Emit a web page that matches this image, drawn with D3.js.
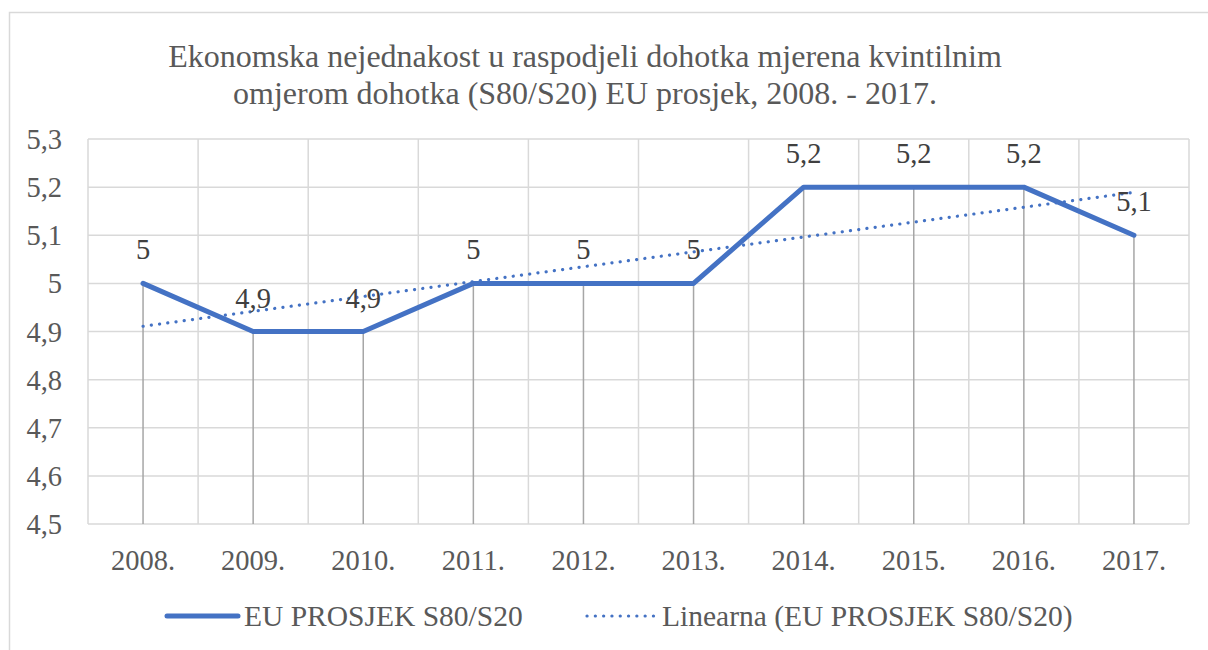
<!DOCTYPE html>
<html>
<head>
<meta charset="utf-8">
<script src="https://cdn.jsdelivr.net/npm/d3@7"></script>
<style>
  body { margin: 0; background: #fff; }
  svg text { font-family: "Liberation Serif", "Times New Roman", Times, serif; }
</style>
</head>
<body>
<script>
// data
var years = ["2008.", "2009.", "2010.", "2011.", "2012.", "2013.", "2014.", "2015.", "2016.", "2017."];
var values = [5, 4.9, 4.9, 5, 5, 5, 5.2, 5.2, 5.2, 5.1];
var yTicks = [4.5, 4.6, 4.7, 4.8, 4.9, 5, 5.1, 5.2, 5.3];
var titleLines = ["Ekonomska nejednakost u raspodjeli dohotka mjerena kvintilnim",
                  "omjerom dohotka (S80/S20) EU prosjek, 2008. - 2017."];
var seriesName = "EU PROSJEK S80/S20";
var trendName = "Linearna (EU PROSJEK S80/S20)";

var width = 1208;
var height = 650;
var blue = "#4472C4";

var plotLeft = 88, plotRight = 1189, plotTop = 139, plotBottom = 524;

var fmt = function(v){
  return String(v).replace(".", ",");
};

var svg = d3.select("body")
            .append("svg")
            .attr("width", width)
            .attr("height", height);

// outer chart border
svg.append("rect")
   .attr("x", 9.5).attr("y", 12.5)
   .attr("width", 1250).attr("height", 700)
   .attr("fill", "none")
   .attr("stroke", "#D9D9D9")
   .attr("stroke-width", 1.5);

var xScale = d3.scaleBand()
               .domain(years)
               .range([plotLeft, plotRight]);

var yScale = d3.scaleLinear()
               .domain([4.5, 5.3])
               .range([plotBottom, plotTop]);

var cx = function(i){ return xScale(years[i]) + xScale.bandwidth() / 2; };

// title
svg.selectAll(".title")
   .data(titleLines)
   .enter()
   .append("text")
   .attr("class", "title")
   .attr("x", 585)
   .attr("y", function(d, i){ return 67 + i * 36.5; })
   .attr("text-anchor", "middle")
   .attr("font-size", 32)
   .attr("fill", "#595959")
   .text(function(d){ return d; });

// horizontal gridlines
svg.selectAll(".hgrid")
   .data(yTicks)
   .enter()
   .append("line")
   .attr("x1", plotLeft).attr("x2", plotRight)
   .attr("y1", function(d){ return yScale(d); })
   .attr("y2", function(d){ return yScale(d); })
   .attr("stroke", "#D9D9D9")
   .attr("stroke-width", 1.5);

// vertical gridlines (band edges)
var edges = years.map(function(d){ return xScale(d); }).concat([plotRight]);
svg.selectAll(".vgrid")
   .data(edges)
   .enter()
   .append("line")
   .attr("x1", function(d){ return d; })
   .attr("x2", function(d){ return d; })
   .attr("y1", plotTop).attr("y2", plotBottom)
   .attr("stroke", "#D9D9D9")
   .attr("stroke-width", 1.5);

// drop lines
svg.selectAll(".drop")
   .data(values)
   .enter()
   .append("line")
   .attr("x1", function(d, i){ return cx(i); })
   .attr("x2", function(d, i){ return cx(i); })
   .attr("y1", function(d){ return yScale(d); })
   .attr("y2", plotBottom)
   .attr("stroke", "#A6A6A6")
   .attr("stroke-width", 1.5);

// y axis labels
svg.selectAll(".ylab")
   .data(yTicks)
   .enter()
   .append("text")
   .attr("x", 62)
   .attr("y", function(d){ return yScale(d) + 10; })
   .attr("text-anchor", "end")
   .attr("font-size", 28.5)
   .attr("fill", "#595959")
   .text(function(d){ return fmt(d); });

// x axis labels
svg.selectAll(".xlab")
   .data(years)
   .enter()
   .append("text")
   .attr("x", function(d, i){ return cx(i); })
   .attr("y", 570)
   .attr("text-anchor", "middle")
   .attr("font-size", 28.5)
   .attr("fill", "#595959")
   .text(function(d){ return d; });

// linear trend (least squares, like Excel's trendline)
var n = values.length;
var mx = d3.mean(values, function(d, i){ return i; });
var my = d3.mean(values);
var sxy = d3.sum(values, function(d, i){ return (i - mx) * (d - my); });
var sxx = d3.sum(values, function(d, i){ return (i - mx) * (i - mx); });
var slope = sxy / sxx;
var icpt = my - slope * mx;

var line = d3.line()
             .x(function(d, i){ return cx(i); })
             .y(function(d){ return yScale(d); });

svg.append("path")
   .datum(values)
   .attr("d", line)
   .attr("fill", "none")
   .attr("stroke", blue)
   .attr("stroke-width", 5)
   .attr("stroke-linejoin", "round")
   .attr("stroke-linecap", "round");

svg.append("line")
   .attr("x1", cx(0)).attr("y1", yScale(icpt))
   .attr("x2", cx(n - 1)).attr("y2", yScale(icpt + slope * (n - 1)))
   .attr("stroke", blue)
   .attr("stroke-width", 3.2)
   .attr("stroke-linecap", "round")
   .attr("stroke-dasharray", "0.1 8.2");

// data labels
svg.selectAll(".dlab")
   .data(values)
   .enter()
   .append("text")
   .attr("x", function(d, i){ return cx(i); })
   .attr("y", function(d){ return yScale(d) - 24; })
   .attr("text-anchor", "middle")
   .attr("font-size", 28.5)
   .attr("fill", "#404040")
   .text(function(d){ return fmt(d); });

// legend
var lg = svg.append("g");
lg.append("line")
  .attr("x1", 167).attr("x2", 238)
  .attr("y1", 616).attr("y2", 616)
  .attr("stroke", blue)
  .attr("stroke-width", 5)
  .attr("stroke-linecap", "round");
lg.append("text")
  .attr("x", 244).attr("y", 626)
  .attr("font-size", 29.5)
  .attr("fill", "#595959")
  .text(seriesName);
lg.append("line")
  .attr("x1", 587).attr("x2", 655)
  .attr("y1", 616).attr("y2", 616)
  .attr("stroke", blue)
  .attr("stroke-width", 3.2)
  .attr("stroke-linecap", "round")
  .attr("stroke-dasharray", "0.1 8.2");
lg.append("text")
  .attr("x", 662).attr("y", 626)
  .attr("font-size", 29.5)
  .attr("fill", "#595959")
  .text(trendName);
</script>
</body>
</html>
